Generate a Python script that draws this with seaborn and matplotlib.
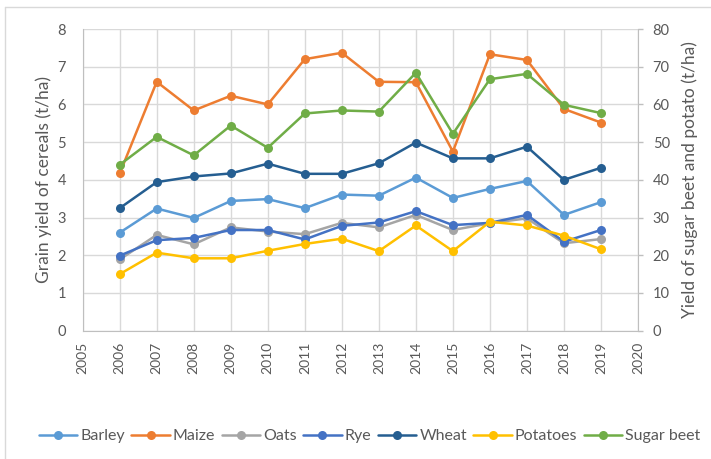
import seaborn as sns
import pandas as pd
import matplotlib.pyplot as plt
from matplotlib.lines import Line2D

# Yield data (cereals in t/ha on the left axis,
# sugar beet and potatoes in t/ha on the right axis)
years = list(range(2006, 2020))

barley = [2.60, 3.24, 2.99, 3.44, 3.49, 3.25, 3.61, 3.58, 4.06, 3.52, 3.76, 3.97, 3.07, 3.41]
maize = [4.17, 6.60, 5.84, 6.23, 6.00, 7.20, 7.37, 6.60, 6.59, 4.75, 7.33, 7.18, 5.88, 5.52]
oats = [1.89, 2.54, 2.29, 2.74, 2.63, 2.56, 2.86, 2.74, 3.07, 2.67, 2.85, 2.98, 2.32, 2.43]
rye = [1.99, 2.40, 2.46, 2.67, 2.67, 2.42, 2.78, 2.87, 3.17, 2.80, 2.86, 3.07, 2.36, 2.67]
wheat = [3.25, 3.94, 4.09, 4.17, 4.43, 4.16, 4.16, 4.44, 4.99, 4.57, 4.57, 4.88, 4.00, 4.32]
potatoes = [15.0, 20.7, 19.2, 19.2, 21.2, 23.0, 24.4, 21.1, 27.9, 21.1, 28.9, 27.9, 25.2, 21.6]
sugar_beet = [44.0, 51.4, 46.5, 54.4, 48.5, 57.6, 58.4, 58.1, 68.4, 52.2, 66.7, 68.1, 59.9, 57.7]

cereal_names = ["Barley", "Maize", "Oats", "Rye", "Wheat"]
root_names = ["Potatoes", "Sugar beet"]

colors = {"Barley": "#5B9BD5", "Maize": "#ED7D31", "Oats": "#A5A5A5",
          "Rye": "#4472C4", "Wheat": "#255E91", "Potatoes": "#FFC000",
          "Sugar beet": "#70AD47"}

cereals = pd.DataFrame({"year": years, "Barley": barley, "Maize": maize,
                        "Oats": oats, "Rye": rye, "Wheat": wheat})
roots = pd.DataFrame({"year": years, "Potatoes": potatoes, "Sugar beet": sugar_beet})

cereals_long = cereals.melt(id_vars="year", var_name="crop", value_name="yield")
roots_long = roots.melt(id_vars="year", var_name="crop", value_name="yield")

sns.set_style("white")
plt.rcParams["font.family"] = ["Lato", "DejaVu Sans"]
grey_text = "#595959"

fig = plt.figure(figsize=(7.11, 4.59), dpi=100)
ax = fig.add_axes([0.1163, 0.2795, 0.781, 0.6573])
ax2 = ax.twinx()

line_kws = dict(marker="o", markersize=6.5, linewidth=1.8, markeredgewidth=0)

# Cereals on the left axis, root crops on the right axis (drawn on top)
sns.lineplot(data=cereals_long, x="year", y="yield", hue="crop",
             hue_order=cereal_names, palette=colors, ax=ax, legend=False,
             **line_kws)
sns.lineplot(data=roots_long, x="year", y="yield", hue="crop",
             hue_order=root_names, palette=colors, ax=ax2, legend=False,
             **line_kws)

# Axis ranges and ticks
ax.set_xlim(2005, 2020)
ax.set_ylim(0, 8)
ax2.set_ylim(0, 80)
ax.set_xticks(range(2005, 2021))
ax.set_yticks(range(0, 9))
ax2.set_yticks(range(0, 81, 10))

ax.grid(True, color="#D9D9D9", linewidth=1.0)
ax.set_axisbelow(True)
ax2.grid(False)

ax.tick_params(axis="x", labelrotation=90, length=0, pad=8,
               labelsize=10, labelcolor=grey_text)
ax.tick_params(axis="y", length=0, pad=12, labelsize=10.5, labelcolor=grey_text)
ax2.tick_params(axis="y", length=3.6, width=1, color="#BFBFBF", pad=7,
                labelsize=10.5, labelcolor=grey_text)

ax.spines["top"].set_visible(False)
ax2.spines["top"].set_visible(False)
ax.spines["left"].set_color("#BFBFBF")
ax.spines["bottom"].set_color("#BFBFBF")
ax.spines["right"].set_visible(False)
ax2.spines["left"].set_visible(False)
ax2.spines["bottom"].set_visible(False)
ax2.spines["right"].set_color("#BFBFBF")

ax.set_xlabel("")
ax.set_ylabel("Grain yield of cereals (t/ha)", fontsize=12.5, color=grey_text,
              labelpad=4)
ax2.set_ylabel("Yield of sugar beet and potato (t/ha)", fontsize=12.5,
               color=grey_text, labelpad=8)

# Legend with all seven series in one row
handles = [Line2D([], [], color=colors[n], marker="o", markersize=6.5,
                  linewidth=1.8, markeredgewidth=0)
           for n in cereal_names + root_names]
fig.legend(handles, cereal_names + root_names, loc="center",
           bbox_to_anchor=(0.52, 0.05), ncol=7, frameon=False,
           fontsize=11.5, labelcolor=grey_text, handlelength=2.4,
           handletextpad=0.2, columnspacing=0.4)

# Light chart-area border along the top and left edges
fig.add_artist(Line2D([0.007, 1.0], [0.985, 0.985], color="#D9D9D9",
                      linewidth=1, transform=fig.transFigure))
fig.add_artist(Line2D([0.007, 0.007], [0.0, 0.985], color="#D9D9D9",
                      linewidth=1, transform=fig.transFigure))

fig.savefig("out.png", dpi=100)
